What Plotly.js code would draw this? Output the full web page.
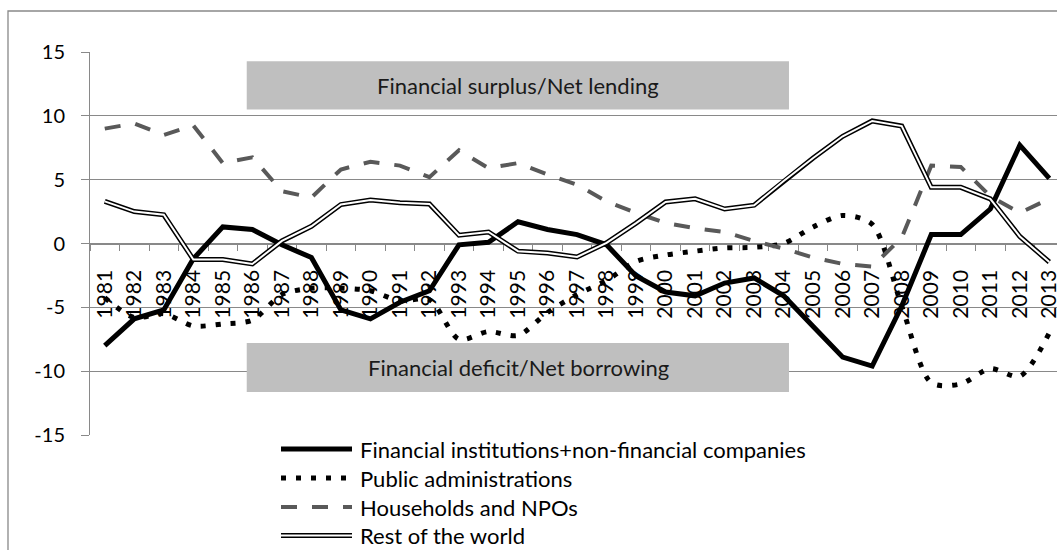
<!DOCTYPE html>
<html>
<head>
<meta charset="utf-8">
<script src="https://cdn.plot.ly/plotly-3.0.1.min.js"></script>
<style>
html,body{margin:0;padding:0;background:#ffffff;}
#chart{width:1057px;height:550px;}
</style>
</head>
<body>
<div id="chart"></div>
<script>
// ---- data ----
const years = ['1981','1982','1983','1984','1985','1986','1987','1988','1989','1990','1991','1992','1993','1994','1995','1996','1997','1998','1999','2000','2001','2002','2003','2004','2005','2006','2007','2008','2009','2010','2011','2012','2013'];

const companies = [-8.0,-5.9,-5.2,-1.2,1.3,1.1,-0.1,-1.1,-5.2,-5.9,-4.6,-3.7,-0.1,0.1,1.7,1.1,0.7,-0.1,-2.55,-3.8,-4.1,-3.1,-2.7,-4.1,-6.5,-8.9,-9.6,-4.9,0.7,0.7,2.7,7.7,5.1];
const publicAdmin = [-4.25,-5.8,-5.5,-6.45,-6.3,-6.0,-4.0,-3.5,-3.5,-3.7,-4.5,-4.4,-7.5,-6.9,-7.2,-5.4,-4.0,-2.9,-1.4,-0.9,-0.6,-0.35,-0.3,0.0,1.3,2.2,1.5,-4.9,-10.9,-11.0,-9.8,-10.4,-7.0];
const households = [9.0,9.4,8.5,9.25,6.3,6.75,4.1,3.6,5.8,6.4,6.1,5.2,7.3,5.9,6.3,5.4,4.6,3.3,2.4,1.6,1.2,0.9,0.2,-0.4,-1.1,-1.6,-1.8,0.45,6.1,6.0,3.7,2.4,3.5];
const restOfWorld = [3.3,2.5,2.25,-1.25,-1.25,-1.6,0.2,1.35,3.05,3.4,3.2,3.1,0.65,0.9,-0.6,-0.75,-1.05,0.05,1.6,3.25,3.5,2.7,3.0,4.9,6.7,8.4,9.6,9.2,4.4,4.4,3.5,0.55,-1.45];

const seriesNames = ['Financial institutions+non-financial companies','Public administrations','Households and NPOs','Rest of the world'];
const boxLabels = ['Financial surplus/Net lending','Financial deficit/Net borrowing'];
const yTicks = [-15,-10,-5,0,5,10,15];

// ---- styling ----
const FONT = 'Lato, "Open Sans", sans-serif';
const GRID = '#898989';
const W = 1057, H = 550;
const M = {l:90, r:0, t:52, b:115};
const plotW = W - M.l - M.r, plotH = H - M.t - M.b;
const px2x = p => (p - M.l) / plotW;      // pixel -> paper x
const px2y = p => (H - M.b - p) / plotH;  // pixel -> paper y

const traces = [
  {x: years, y: companies, name: seriesNames[0], type:'scatter', mode:'lines',
   line:{color:'#000000', width:5}, showlegend:false, hoverinfo:'skip'},
  {x: years, y: publicAdmin, name: seriesNames[1], type:'scatter', mode:'lines',
   line:{color:'#000000', width:5, dash:'5px,10px', shape:'spline', smoothing:0.8}, showlegend:false, hoverinfo:'skip'},
  {x: years, y: households, name: seriesNames[2], type:'scatter', mode:'lines',
   line:{color:'#595959', width:4, dash:'16px,15px'}, showlegend:false, hoverinfo:'skip'},
  {x: years, y: restOfWorld, name: seriesNames[3], type:'scatter', mode:'lines',
   line:{color:'#000000', width:5}, showlegend:false, hoverinfo:'skip'},
  {x: years, y: restOfWorld, name: seriesNames[3], type:'scatter', mode:'lines',
   line:{color:'#ffffff', width:2}, showlegend:false, hoverinfo:'skip'}
];

// legend (custom, to match long key samples)
const legX0 = px2x(281), legX1 = px2x(352), legTextX = px2x(358);
const legRows = [449, 478, 507, 535.5];
const shapes = [];
const annotations = [];

// outer chart frame
shapes.push({type:'rect', xref:'paper', yref:'paper', x0:px2x(8), x1:1.2, y0:-1, y1:px2y(11),
  line:{color:GRID, width:1.3}, fillcolor:'rgba(0,0,0,0)', layer:'below'});

// label boxes
shapes.push({type:'rect', xref:'x', yref:'y', x0:4.81, x1:23.18, y0:10.5, y1:14.28,
  line:{width:0}, fillcolor:'#bfbfbf', layer:'between'});
shapes.push({type:'rect', xref:'x', yref:'y', x0:4.81, x1:23.18, y0:-11.63, y1:-7.8,
  line:{width:0}, fillcolor:'#bfbfbf', layer:'between'});
annotations.push({xref:'x', yref:'y', x:14.0, y:12.4, text:boxLabels[0], showarrow:false,
  font:{family:FONT, size:22, color:'#1a1a1a'}});
annotations.push({xref:'x', yref:'y', x:14.0, y:-9.72, text:boxLabels[1], showarrow:false,
  font:{family:FONT, size:22, color:'#1a1a1a'}});

const legStyles = [
  [{color:'#000000', width:5, dash:'solid'}],
  [{color:'#000000', width:5, dash:'5px,10px'}],
  [{color:'#595959', width:4, dash:'16px,15px'}],
  [{color:'#000000', width:5, dash:'solid'}, {color:'#ffffff', width:2, dash:'solid'}]
];
legRows.forEach((r, i) => {
  legStyles[i].forEach(st => {
    shapes.push({type:'line', xref:'paper', yref:'paper', x0:legX0, x1:legX1, y0:px2y(r), y1:px2y(r),
      line:st, layer:'above'});
  });
  annotations.push({xref:'paper', yref:'paper', x:legTextX, y:px2y(r), xanchor:'left', yanchor:'middle',
    text:seriesNames[i], showarrow:false, font:{family:FONT, size:22, color:'#000000'}});
});

const layout = {
  width:W, height:H, margin:M,
  paper_bgcolor:'#ffffff', plot_bgcolor:'#ffffff',
  showlegend:false,
  xaxis:{type:'category', range:[-0.5, 32.26], anchor:'free', position:0.5,
    showgrid:false, zeroline:false, showline:true, linecolor:GRID, linewidth:1,
    ticks:'outside', tickson:'boundaries', ticklen:6, tickcolor:GRID, tickwidth:1,
    tickangle:-90, tickfont:{family:FONT, size:21, color:'#000000'},
    ticklabelstandoff:17, layer:'below traces', fixedrange:true},
  yaxis:{range:[-15,15], tickvals:yTicks, ticktext:yTicks.map(String),
    showgrid:true, gridcolor:GRID, gridwidth:1, zeroline:false,
    showline:true, linecolor:GRID, linewidth:1,
    ticks:'outside', ticklen:8, tickcolor:GRID, tickwidth:1,
    tickfont:{family:FONT, size:20, color:'#000000'}, ticklabelstandoff:12, fixedrange:true},
  shapes:shapes,
  annotations:annotations
};

Plotly.newPlot('chart', traces, layout, {staticPlot:true, displayModeBar:false});
</script>
</body>
</html>
